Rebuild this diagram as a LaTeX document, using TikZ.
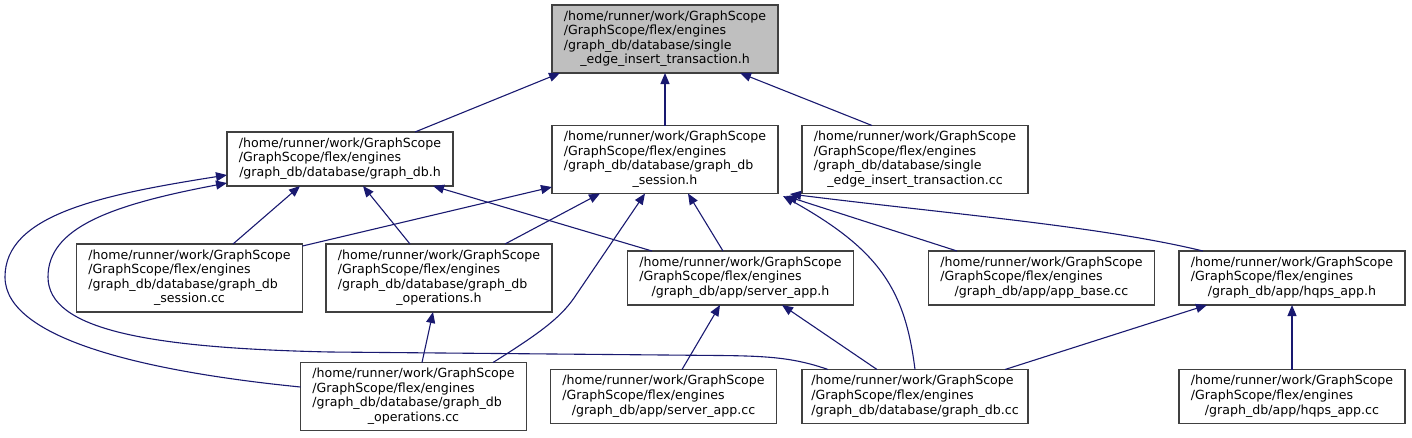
\documentclass[tikz,border=0pt]{standalone}
\usepackage{fontspec}
\setmainfont{DejaVu Sans}
\usetikzlibrary{arrows.meta}
\definecolor{edgecol}{RGB}{25,25,112}
\definecolor{bordercol}{RGB}{64,64,64}
\definecolor{rootfill}{RGB}{191,191,191}
\newcommand{\lastc}[1]{\multicolumn{1}{@{}c@{}}{#1}}
\newcommand{\flbl}[1]{\begin{tabular}{@{}l@{}}#1\end{tabular}}
\tikzset{
  filebox/.style={draw=bordercol, line width=1.4pt, fill=white, rectangle,
    minimum width=226pt, inner sep=0pt, outer sep=0pt,
    font=\fontsize{12.6}{14.6}\selectfont},
  tall/.style={minimum height=68pt},
  short/.style={minimum height=54pt},
  rootbox/.style={fill=rootfill},
  dep/.style={draw=edgecol, line width=1.1pt, -{Triangle[length=11pt,width=9pt]}},
}
\renewcommand{\arraystretch}{1}
\begin{document}
\begin{tikzpicture}[x=1pt,y=-1pt]
\useasboundingbox (0,0) rectangle (1412,437);
% nodes
\node[filebox,tall,rootbox] (A) at (665,39) {\flbl{/home/runner/work/GraphScope\\/GraphScope/flex/engines\\/graph\_db/database/single\\\lastc{\_edge\_insert\_transaction.h}}};
\node[filebox,short] (B) at (340,159) {\flbl{/home/runner/work/GraphScope\\/GraphScope/flex/engines\\\lastc{/graph\_db/database/graph\_db.h}}};
\node[filebox,tall] (C) at (665,159.5) {\flbl{/home/runner/work/GraphScope\\/GraphScope/flex/engines\\/graph\_db/database/graph\_db\\\lastc{\_session.h}}};
\node[filebox,tall] (D) at (915,159.5) {\flbl{/home/runner/work/GraphScope\\/GraphScope/flex/engines\\/graph\_db/database/single\\\lastc{\_edge\_insert\_transaction.cc}}};
\node[filebox,tall] (E) at (189.5,278) {\flbl{/home/runner/work/GraphScope\\/GraphScope/flex/engines\\/graph\_db/database/graph\_db\\\lastc{\_session.cc}}};
\node[filebox,tall] (F) at (439,278) {\flbl{/home/runner/work/GraphScope\\/GraphScope/flex/engines\\/graph\_db/database/graph\_db\\\lastc{\_operations.h}}};
\node[filebox,short] (G) at (740.5,278) {\flbl{/home/runner/work/GraphScope\\/GraphScope/flex/engines\\\lastc{/graph\_db/app/server\_app.h}}};
\node[filebox,short] (H) at (1041.5,278) {\flbl{/home/runner/work/GraphScope\\/GraphScope/flex/engines\\\lastc{/graph\_db/app/app\_base.cc}}};
\node[filebox,short] (I) at (1292,278) {\flbl{/home/runner/work/GraphScope\\/GraphScope/flex/engines\\\lastc{/graph\_db/app/hqps\_app.h}}};
\node[filebox,tall] (J) at (413.5,396.5) {\flbl{/home/runner/work/GraphScope\\/GraphScope/flex/engines\\/graph\_db/database/graph\_db\\\lastc{\_operations.cc}}};
\node[filebox,short] (K) at (663.5,396.5) {\flbl{/home/runner/work/GraphScope\\/GraphScope/flex/engines\\\lastc{/graph\_db/app/server\_app.cc}}};
\node[filebox,short] (L) at (915,396.5) {\flbl{/home/runner/work/GraphScope\\/GraphScope/flex/engines\\\lastc{/graph\_db/database/graph\_db.cc}}};
\node[filebox,short] (M) at (1292,396.5) {\flbl{/home/runner/work/GraphScope\\/GraphScope/flex/engines\\\lastc{/graph\_db/app/hqps\_app.cc}}};
% edges
\draw[dep] (B.north -| 415,0) -- (A.south -| 560,0);
\draw[dep] (C.north) -- (A.south);
\draw[dep] (D.north -| 872,0) -- (A.south -| 740,0);
\draw[dep] (E.north -| 233,0) -- (B.south -| 300,0);
\draw[dep] (F.north -| 410,0) -- (B.south -| 363,0);
\draw[dep] (G.north -| 652,0) -- (B.south -| 433,0);
\draw[dep] (J.west |- 0,387) .. controls (150,372) and (5,340) .. (5,277) .. controls (5,215) and (100,195) .. (B.west |- 0,175);
\draw[dep] (L.north -| 828,0) .. controls (795,358) and (770,356) .. (720,355.5) -- (330,352) .. controls (150,348) and (48,330) .. (48,277) .. controls (48,228) and (110,205) .. (B.west |- 0,183);
\draw[dep] (E.east |- 0,246) -- (C.west |- 0,187);
\draw[dep] (F.north -| 505,0) -- (C.south -| 600,0);
\draw[dep] (J.north -| 493,0) .. controls (540,333) and (560,318) .. (574,298) -- (C.south -| 645,0);
\draw[dep] (G.north -| 723,0) -- (C.south -| 688,0);
\draw[dep] (L.north) .. controls (905,290) and (880,250) .. (783,196);
\draw[dep] (H.north -| 957,0) -- (786,196);
\draw[dep] (I.north -| 1203,0) .. controls (1100,226) and (950,214) .. (790,194);
\draw[dep] (K.north -| 682,0) -- (G.south -| 720,0);
\draw[dep] (L.north -| 877,0) -- (G.south -| 782,0);
\draw[dep] (J.north -| 422,0) -- (F.south -| 433,0);
\draw[dep] (L.north -| 1005,0) -- (I.south -| 1207,0);
\draw[dep] (M.north) -- (I.south);
\end{tikzpicture}
\end{document}
